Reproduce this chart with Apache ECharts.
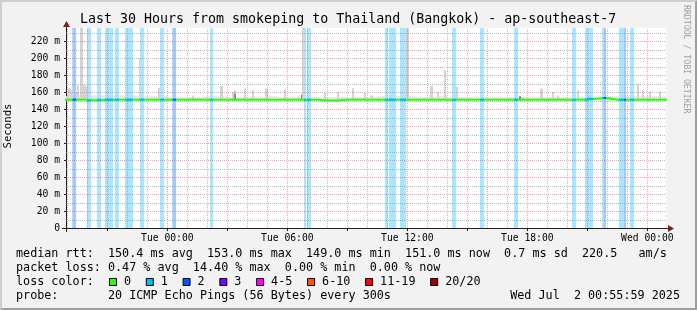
<!DOCTYPE html>
<html>
<head>
<meta charset="utf-8">
<script src="https://cdn.jsdelivr.net/npm/echarts@6.0.0/dist/echarts.min.js"></script>
<style>
html,body{margin:0;padding:0;background:#f2f2f2;}
#chart{width:697px;height:310px;}
</style>
</head>
<body>
<div id="chart"></div>
<script>
// ---------------- data ----------------
const chartTitle = 'Last 30 Hours from smokeping to Thailand (Bangkok) - ap-southeast-7';
const yAxisName = 'Seconds';
const watermark = 'RRDTOOL / TOBI OETIKER';
const xStart = 'Mon 18:56';
const xEnd = 'Wed 00:56';
const xLabelTimes = ['Tue 00:00', 'Tue 06:00', 'Tue 12:00', 'Tue 18:00', 'Wed 00:00'];
const yTickValues = [0, 20, 40, 60, 80, 100, 120, 140, 160, 180, 200, 220];
const yMax = 235.3;

// median rtt (ms), one value per half hour starting at medianStart
const medianStart = 'Mon 18:30';
const medianRtt = [
  151, 151, 151, 150, 151, 151, 151, 151, 151, 151, 151,
  151, 151, 151, 151, 151, 151, 151, 151, 151, 151, 151, 151,
  151, 151, 151, 150, 150, 151, 151, 151, 151, 151, 151, 151,
  151, 151, 151, 151, 151, 151, 151, 151, 151, 151, 151, 151,
  151, 151, 151, 151, 151, 151, 152, 153, 151, 151, 151, 151,
  151, 151
];
// typical highest ping of the smoke per half hour (ms)
const smokeTop = [
  155, 156, 156, 156, 156, 156, 156, 156, 155, 155, 155,
  154, 154, 154, 154, 155, 155, 154, 154, 154, 154, 155, 154,
  154, 155, 154, 154, 154, 154, 154, 154, 154, 155, 155, 155,
  155, 154, 154, 155, 154, 154, 154, 154, 154, 154, 154, 154,
  154, 154, 154, 154, 154, 154, 155, 156, 155, 155, 155, 155,
  155, 155
];
// single 5-minute steps with high pings (ms)
const spikeTimes = ['Mon 19:05','Mon 19:10','Mon 19:25','Mon 19:30','Mon 19:40','Mon 19:50','Mon 19:55',
  'Mon 21:00','Mon 21:05','Mon 22:05','Mon 22:10','Mon 22:35','Mon 22:40','Mon 23:35',
  'Tue 01:15','Tue 02:40','Tue 03:15','Tue 03:20','Tue 03:50','Tue 04:15','Tue 04:55','Tue 05:50',
  'Tue 06:45','Tue 07:05','Tue 07:50','Tue 08:30','Tue 09:15','Tue 09:50','Tue 10:10',
  'Tue 10:55','Tue 11:10','Tue 11:15','Tue 11:50','Tue 11:55','Tue 12:00',
  'Tue 13:10','Tue 13:30','Tue 13:50','Tue 14:25','Tue 15:45','Tue 17:25','Tue 17:45',
  'Tue 18:40','Tue 19:15','Tue 19:30','Tue 20:30','Tue 21:00','Tue 21:05','Tue 22:40','Tue 22:45',
  'Tue 23:30','Tue 23:45','Wed 00:05','Wed 00:35'];
const spikeTops = [165, 162, 160, 168, 240, 168, 166,
  240, 240, 240, 240, 200, 209, 165,
  156, 167, 160, 162, 164, 162, 164, 163,
  240, 240, 159, 160, 164, 159, 156,
  240, 240, 240, 240, 240, 240,
  167, 160, 186, 166, 165, 240, 154,
  164, 160, 156, 162, 240, 240, 240, 240,
  170, 162, 161, 161];
// darker smoke close to the median (ms)
const darkTimes = ['Mon 19:20', 'Tue 03:20', 'Tue 06:40', 'Tue 11:10', 'Tue 17:35', 'Tue 22:45'];
const darkTops = [155, 158, 157, 156, 155, 156];
// packet loss per 5-minute step (lost pings of 20)
const lossTimes = ['Mon 19:15','Mon 19:20','Mon 20:00','Mon 20:05','Mon 20:30','Mon 20:35',
  'Mon 20:55','Mon 21:00','Mon 21:05','Mon 21:10','Mon 21:25','Mon 21:30',
  'Mon 21:55','Mon 22:00','Mon 22:05','Mon 22:10','Mon 22:40','Mon 22:45','Mon 23:40','Mon 23:45',
  'Tue 00:15','Tue 00:20','Tue 02:10','Tue 06:50','Tue 07:00','Tue 07:05','Tue 10:55',
  'Tue 11:05','Tue 11:10','Tue 11:15','Tue 11:20','Tue 11:40','Tue 11:45','Tue 11:50',
  'Tue 14:15','Tue 14:20','Tue 15:40','Tue 15:45','Tue 17:20','Tue 17:25','Tue 20:15','Tue 20:20',
  'Tue 20:55','Tue 21:00','Tue 21:05','Tue 21:10','Tue 21:45','Tue 21:50',
  'Tue 22:35','Tue 22:40','Tue 22:45','Tue 22:50','Tue 23:10','Tue 23:15'];
const lossPings = [1,2,1,1,1,1,
  1,1,1,1,1,1,
  1,1,1,1,1,1,1,1,
  1,2,1,1,1,1,1,
  1,1,1,1,1,1,1,
  1,1,1,1,1,1,1,1,
  1,1,1,1,1,2,
  1,1,1,2,1,1];
const lossLegendLabels = ['0', '1', '2', '3', '4-5', '6-10', '11-19', '20/20'];
const lossLegendMax = [0, 1, 2, 3, 5, 10, 19, 20];
const lossColors = ['#26ff00', '#00b8ff', '#0059ff', '#7e00ff', '#ff00ff', '#ff5500', '#ff0000', '#a10000'];

const legendRtt = 'median rtt:  150.4 ms avg  153.0 ms max  149.0 ms min  151.0 ms now  0.7 ms sd  220.5   am/s';
const legendLoss = 'packet loss: 0.47 % avg  14.40 % max  0.00 % min  0.00 % now';
const legendColorLabel = 'loss color:';
const legendProbe = 'probe:       20 ICMP Echo Pings (56 Bytes) every 300s';
const legendDate = 'Wed Jul  2 00:55:59 2025';

// ---------------- helpers ----------------
const STEP = 5 / 60;
const DAY = { Mon: -24, Tue: 0, Wed: 24 };
function toH(s) {
  const [d, hm] = s.split(' ');
  const [h, m] = hm.split(':').map(Number);
  return DAY[d] + h + m / 60;
}
const X0 = toH(xStart), X1 = toH(xEnd), M0 = toH(medianStart);
function medianAt(t) {
  let i = Math.floor((t - M0) / 0.5 + 1e-9);
  i = Math.max(0, Math.min(medianRtt.length - 1, i));
  return medianRtt[i];
}
function lossIndex(p) {
  for (let i = 0; i < lossLegendMax.length; i++) if (p <= lossLegendMax[i]) return i;
  return lossLegendMax.length - 1;
}
// light (opaque) version of a colour, as it looks when laid over white
function lighten(hex, a) {
  const c = [1, 3, 5].map(k => parseInt(hex.slice(k, k + 2), 16));
  return 'rgb(' + c.map(v => Math.round(v * a + 255 * (1 - a))).join(',') + ')';
}
function rectItem(params, api, t0, t1, v0, v1, fill, wide) {
  const a = api.coord([t0, v0]), b = api.coord([t1, Math.min(v1, yMax)]);
  const x0 = wide ? Math.floor(a[0]) : Math.round(a[0]);
  const x1 = wide ? Math.ceil(b[0]) : Math.round(b[0]);
  const r = echarts.graphic.clipRectByRect(
    { x: x0, y: Math.min(a[1], b[1]), width: Math.max(1, x1 - x0), height: Math.abs(a[1] - b[1]) },
    { x: params.coordSys.x, y: params.coordSys.y, width: params.coordSys.width, height: params.coordSys.height });
  if (!r) return null;
  return { type: 'rect', shape: r, style: { fill: fill }, silent: true };
}

const MONO = 'DejaVu Sans Mono';
const MINOR = 'rgba(143,143,143,0.6)';
const MAJOR = 'rgba(222,79,79,0.5)';

const chart = echarts.init(document.getElementById('chart'), null, { renderer: 'canvas' });

const GL = 66, GT = 28, GW = 600, GH = 200;

const hourGrid = [];
for (let h = Math.ceil(X0); h <= Math.floor(X1); h++) hourGrid.push([h, (((h % 3) + 3) % 3 === 0) ? 1 : 0]);
const valueGrid = [];
for (let v = 10; v < yMax; v += 10) valueGrid.push([v, v % 20 === 0 ? 1 : 0]);

const medianPoints = medianRtt.map((v, i) => [M0 + i * 0.5, v]);
medianPoints.push([M0 + medianRtt.length * 0.5, medianRtt[medianRtt.length - 1]]);

const xLabelValues = xLabelTimes.map(toH);
const xTickValues = hourGrid.filter(d => d[1] === 1).map(d => d[0]);

// ---------------- graphic (frame & texts) ----------------
const graphics = [];
graphics.push({ type: 'polygon', shape: { points: [[0, 310], [2, 308], [2, 2], [695, 2], [697, 0], [0, 0]] }, style: { fill: '#cfcfcf' }, silent: true });
graphics.push({ type: 'polygon', shape: { points: [[2, 308], [695, 308], [695, 2], [697, 0], [697, 310], [0, 310]] }, style: { fill: '#9e9e9e' }, silent: true });
graphics.push({ type: 'text', x: 80, y: 19.5, style: { text: chartTitle, fontFamily: MONO, fontSize: 13.3, fill: '#000', textAlign: 'left', textVerticalAlign: 'middle' }, silent: true });
graphics.push({ type: 'text', x: 8.5, y: 126, rotation: Math.PI / 2, style: { text: yAxisName, fontFamily: MONO, fontSize: 10.7, fill: '#000', textAlign: 'center', textVerticalAlign: 'middle' }, silent: true });
graphics.push({ type: 'text', x: 686, y: 5, rotation: -Math.PI / 2, style: { text: watermark, fontFamily: MONO, fontSize: 8.2, fill: '#a0a0a0', textAlign: 'left', textVerticalAlign: 'middle' }, silent: true });
// axis extensions and arrows
graphics.push({ type: 'line', shape: { x1: GL + 0.5, y1: GT, x2: GL + 0.5, y2: GT - 5 }, style: { stroke: '#1f1f1f', lineWidth: 1 }, silent: true });
graphics.push({ type: 'line', shape: { x1: GL - 4, y1: GT + GH + 0.5, x2: GL, y2: GT + GH + 0.5 }, style: { stroke: '#1f1f1f', lineWidth: 1 }, silent: true });
graphics.push({ type: 'line', shape: { x1: GL + 0.5, y1: GT + GH, x2: GL + 0.5, y2: GT + GH + 4 }, style: { stroke: '#1f1f1f', lineWidth: 1 }, silent: true });
graphics.push({ type: 'line', shape: { x1: GL + GW, y1: GT + GH + 0.5, x2: GL + GW + 4, y2: GT + GH + 0.5 }, style: { stroke: '#1f1f1f', lineWidth: 1 }, silent: true });
graphics.push({ type: 'polygon', shape: { points: [[GL + 0.5 - 3.5, GT - 1], [GL + 0.5, GT - 7], [GL + 0.5 + 3.5, GT - 1]] }, style: { fill: '#801f1f' }, silent: true });
graphics.push({ type: 'polygon', shape: { points: [[GL + GW + 2, GT + GH + 0.5 - 3.5], [GL + GW + 8, GT + GH + 0.5], [GL + GW + 2, GT + GH + 0.5 + 3.5]] }, style: { fill: '#801f1f' }, silent: true });
// legend
const LEG_FS = 11.76, CW = 7.08;
const legendText = (t, x, y, align) => ({ type: 'text', x: x, y: y, style: { text: t, fontFamily: MONO, fontSize: LEG_FS, fill: '#000', textAlign: align || 'left', textVerticalAlign: 'middle' }, silent: true });
graphics.push(legendText(legendRtt, 16, 254));
graphics.push(legendText(legendLoss, 16, 268));
graphics.push(legendText(legendColorLabel, 16, 282));
graphics.push(legendText(legendProbe, 16, 296));
graphics.push(legendText(legendDate, 680, 296, 'right'));
let bx = 109;
lossLegendLabels.forEach((lab, i) => {
  graphics.push({ type: 'rect', shape: { x: bx + 0.5, y: 278.5, width: 7, height: 7 }, style: { fill: lossColors[i], stroke: '#000', lineWidth: 1 }, silent: true });
  graphics.push(legendText(lab, bx + 15, 282));
  bx += 15 + lab.length * CW + 14.7;
});

// ---------------- option ----------------
const option = {
  animation: false,
  backgroundColor: '#f2f2f2',
  grid: { left: GL, top: GT, width: GW, height: GH, show: true, backgroundColor: '#ffffff', borderWidth: 0 },
  xAxis: {
    type: 'value', min: X0, max: X1,
    axisLine: { show: true, onZero: false, lineStyle: { color: '#1f1f1f', width: 1 } },
    axisTick: { show: true, customValues: xTickValues, length: 3, lineStyle: { color: '#1f1f1f' } },
    axisLabel: {
      customValues: xLabelValues, margin: 5, color: '#000', fontFamily: MONO, fontSize: 9.7,
      formatter: v => { let k = 0; xLabelValues.forEach((x, i) => { if (Math.abs(x - v) < Math.abs(xLabelValues[k] - v)) k = i; }); return xLabelTimes[k]; }
    },
    splitLine: { show: false }
  },
  yAxis: {
    type: 'value', min: 0, max: yMax,
    axisLine: { show: true, onZero: false, lineStyle: { color: '#1f1f1f', width: 1 } },
    axisTick: { show: true, customValues: yTickValues, length: 2, lineStyle: { color: '#1f1f1f' } },
    axisLabel: {
      customValues: yTickValues, margin: 6, color: '#000', fontFamily: MONO, fontSize: 9.7,
      formatter: v => (v === 0 ? '0' : v + ' m')
    },
    splitLine: { show: false }
  },
  graphic: { elements: graphics },
  series: [
    {
      name: 'smoke', type: 'custom', z: 2, silent: true, clip: true,
      data: medianRtt.map((v, i) => [M0 + i * 0.5, smokeTop[i], v]),
      renderItem: (params, api) => rectItem(params, api, api.value(0), api.value(0) + 0.5, api.value(2), api.value(1), '#e6e6e6', false)
    },
    {
      name: 'spikes', type: 'custom', z: 2, silent: true, clip: true,
      data: spikeTimes.map((s, i) => [toH(s), spikeTops[i], medianAt(toH(s))]),
      renderItem: (params, api) => rectItem(params, api, api.value(0), api.value(0) + STEP, api.value(2), api.value(1), '#d4d4d4', true)
    },
    {
      name: 'darkSmoke', type: 'custom', z: 2, silent: true, clip: true,
      data: darkTimes.map((s, i) => [toH(s), darkTops[i], medianAt(toH(s))]),
      renderItem: (params, api) => rectItem(params, api, api.value(0), api.value(0) + STEP, api.value(2), api.value(1), '#8a8a8a', false)
    },
    {
      name: 'lossBars', type: 'custom', z: 3, silent: true, clip: true,
      data: lossTimes.map((s, i) => [toH(s), lossPings[i]]),
      renderItem: (params, api) => rectItem(params, api, api.value(0), api.value(0) + STEP, 0, yMax, lighten(lossColors[lossIndex(api.value(1))], 0.34), true)
    },
    {
      name: 'vGrid', type: 'custom', z: 4, silent: true,
      data: hourGrid,
      renderItem: (params, api) => {
        const a = api.coord([api.value(0), 0]), b = api.coord([api.value(0), yMax]);
        const x = Math.round(a[0]) + 0.5;
        return { type: 'line', shape: { x1: x, y1: a[1], x2: x, y2: b[1] }, style: { stroke: api.value(1) ? MAJOR : MINOR, lineWidth: 1, lineDash: [1, 1] }, silent: true };
      }
    },
    {
      name: 'hGrid', type: 'custom', z: 4, silent: true,
      data: valueGrid.map(d => [X0, d[0], d[1]]),
      renderItem: (params, api) => {
        const a = api.coord([X0, api.value(1)]), b = api.coord([X1, api.value(1)]);
        const y = Math.round(a[1]) + 0.5;
        return { type: 'line', shape: { x1: a[0], y1: y, x2: b[0], y2: y }, style: { stroke: api.value(2) ? MAJOR : MINOR, lineWidth: 1, lineDash: [1, 1] }, silent: true };
      }
    },
    {
      name: 'median', type: 'line', z: 5, silent: true, step: 'end', symbol: 'none', clip: true,
      data: medianPoints,
      lineStyle: { color: lossColors[0], width: 2 }
    },
    {
      name: 'medianLoss', type: 'custom', z: 6, silent: true, clip: true,
      data: lossTimes.map((s, i) => [toH(s), lossPings[i], medianAt(toH(s))]),
      renderItem: (params, api) => {
        const t = api.value(0), m = api.value(2);
        const a = api.coord([t, m]), b = api.coord([t + STEP, m]);
        const x0 = Math.floor(a[0]), x1 = Math.ceil(b[0]);
        return { type: 'rect', shape: { x: x0, y: a[1] - 1, width: Math.max(1, x1 - x0), height: 2 }, style: { fill: lossColors[lossIndex(api.value(1))] }, silent: true };
      }
    }
  ]
};
chart.setOption(option);
</script>
</body>
</html>
